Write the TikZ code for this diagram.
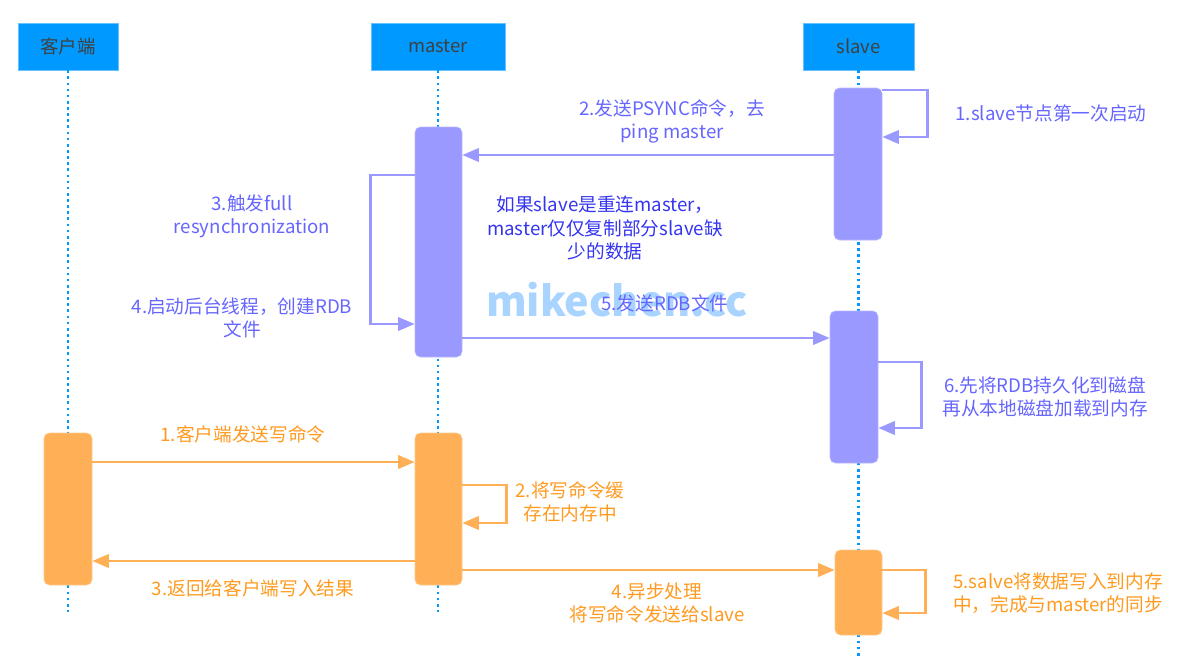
\documentclass[tikz,border=0pt]{standalone}
\usepackage{fontspec}
\setmainfont{Noto Sans CJK SC}
\usetikzlibrary{arrows.meta, positioning, fit}

\definecolor{headblue}{HTML}{0099FF}
\definecolor{pbarcol}{HTML}{9999FF}
\definecolor{ptext}{HTML}{6666FF}
\definecolor{notetext}{HTML}{3535F0}
\definecolor{obarcol}{HTML}{FFB057}
\definecolor{otext}{HTML}{FF9A1F}
\definecolor{markblue}{HTML}{A8D4FF}

\begin{document}
\begin{tikzpicture}[x=0.75pt, y=-0.75pt, >={Triangle[length=12.5pt,width=10pt]},
    head/.style={draw=headblue!60, fill=headblue, inner sep=0pt},
    headtext/.style={text=black!75, font=\fontsize{13.8}{16}\selectfont},
    life/.style={headblue, line width=2pt, dash pattern=on 2pt off 2.6pt},
    pbar/.style={fill=pbarcol, draw=pbarcol!70, rounded corners=4pt, inner sep=0pt},
    obar/.style={fill=obarcol, draw=obarcol!70, rounded corners=4pt, inner sep=0pt},
    pline/.style={draw=pbarcol, line width=2.2pt, ->},
    oline/.style={draw=obarcol, line width=2.2pt, ->},
    plabel/.style={text=ptext, align=center, inner sep=0pt, font=\fontsize{14}{17.5}\selectfont},
    olabel/.style={text=otext, align=center, inner sep=0pt, font=\fontsize{14}{17.5}\selectfont}]
    \useasboundingbox (0,0) rectangle (1200,668);

    % headers and lifelines
    \node[head, fit={(18,23) (118,70)}, label={[headtext]center:客户端}] (hc) {};
    \node[head, fit={(371,23) (505,70)}, label={[headtext]center:master}] (hm) {};
    \node[head, fit={(803,23) (914,70)}, label={[headtext]center:slave}] (hs) {};
    \coordinate (cend) at (68,612);
    \coordinate (mend) at (438,612);
    \coordinate (send) at (858.5,657);
    \draw[life] (hc.south) -- (cend);
    \draw[life] (hm.south) -- (mend);
    \draw[life] (hs.south) -- (send);

    % full resync (purple)
    \node[font=\bfseries\fontsize{31}{31}\selectfont, text=markblue] (mark) at (617,300) {mikechen.cc};
    \node[pbar, fit={(834,88) (882,240)}] (s1) {};
    \node[pbar, fit={(415,127) (462,357)}] (m1) {};
    \node[pbar, fit={(830,311) (878,463)}] (s2) {};

    \draw[pline] (s1.east |- 0,90) -- ++(45,0) |- (s1.east |- 0,137);
    \draw[pline] (s1.west |- 0,155) -- (m1.east |- 0,155);
    \draw[pline] (m1.west |- 0,175) -- ++(-44,0) |- (m1.west |- 0,324);
    \draw[pline] (m1.east |- 0,338) -- (s2.west |- 0,338);
    \draw[pline] (s2.east |- 0,362) -- ++(43,0) |- (s2.east |- 0,428);

    \node[plabel] (p1) at (1051,113) {1.slave节点第一次启动};
    \node[plabel] (p2) at (672,121.5) {2.发送PSYNC命令，去\\ping master};
    \node[plabel, text=notetext] (note) at (605,228) {如果slave是重连master，\\master仅仅复制部分slave缺\\少的数据};
    \node[plabel] (p3) at (252,216) {3.触发full\\resynchronization};
    \node[plabel] (p4) at (242,318) {4.启动后台线程，创建RDB\\文件};
    \node[plabel] (p5) at (665,303) {5.发送RDB文件};
    \node[plabel] (p6) at (1045,397) {6.先将RDB持久化到磁盘\\再从本地磁盘加载到内存};

    % write command (orange)
    \node[obar, fit={(44,433) (92,585)}] (c2) {};
    \node[obar, fit={(415,433) (462,585)}] (m2) {};
    \node[obar, fit={(835,550) (882,635)}] (s3) {};

    \draw[oline] (c2.east |- 0,462) -- (m2.west |- 0,462);
    \draw[oline] (m2.east |- 0,485) -- ++(44,0) |- (m2.east |- 0,523);
    \draw[oline] (m2.west |- 0,561) -- (c2.east |- 0,561);
    \draw[oline] (m2.east |- 0,570) -- (s3.west |- 0,570);
    \draw[oline] (s3.east |- 0,570) -- ++(43,0) |- (s3.east |- 0,613);

    \node[olabel] (o1) at (243,434) {1.客户端发送写命令};
    \node[olabel] (o2) at (570,502) {2.将写命令缓\\存在内存中};
    \node[olabel] (o3) at (253,588) {3.返回给客户端写入结果};
    \node[olabel] (o4) at (657,603) {4.异步处理\\将写命令发送给slave};
    \node[olabel] (o5) at (1058,593) {5.salve将数据写入到内存\\中，完成与master的同步};
\end{tikzpicture}
\end{document}
